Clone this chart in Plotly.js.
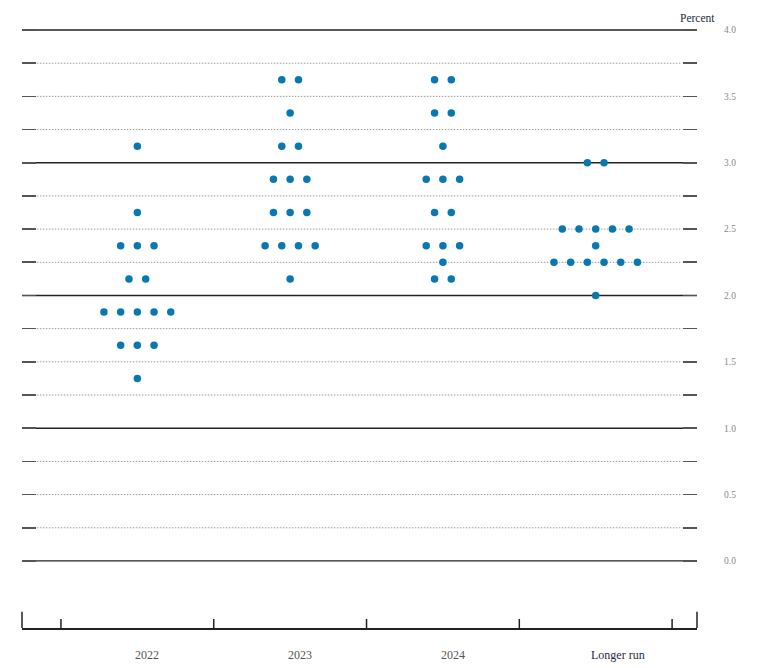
<!DOCTYPE html>
<html>
<head>
<meta charset="utf-8">
<script src="https://cdn.plot.ly/plotly-3.0.1.min.js"></script>
<style>html,body{margin:0;padding:0;background:#fff;}#chart{width:760px;height:668px;}</style>
</head>
<body>
<div id="chart"></div>
<script>
// Categories (x axis)
const categories = ['2022', '2023', '2024', 'Longer run'];

// Midpoint of target range projected by each participant: levels and number of dots per level
const levels2022 = [3.125, 2.625, 2.375, 2.125, 1.875, 1.625, 1.375];
const counts2022 = [1, 1, 3, 2, 5, 3, 1];

const levels2023 = [3.625, 3.375, 3.125, 2.875, 2.625, 2.375, 2.125];
const counts2023 = [2, 1, 2, 3, 3, 4, 1];

const levels2024 = [3.625, 3.375, 3.125, 2.875, 2.625, 2.375, 2.25, 2.125];
const counts2024 = [2, 2, 1, 3, 2, 3, 1, 2];

const levelsLR = [3.0, 2.5, 2.375, 2.25, 2.0];
const countsLR = [2, 5, 1, 6, 1];

// Axis ticks / gridlines
const gridValues = [0, 0.25, 0.5, 0.75, 1, 1.25, 1.5, 1.75, 2, 2.25, 2.5, 2.75, 3, 3.25, 3.5, 3.75, 4];
const tickLabels = ['0.0', '', '0.5', '', '1.0', '', '1.5', '', '2.0', '', '2.5', '', '3.0', '', '3.5', '', '4.0'];
const categoryBoundaries = [-0.5, 0.5, 1.5, 2.5, 3.5];

const allLevels = [levels2022, levels2023, levels2024, levelsLR];
const allCounts = [counts2022, counts2023, counts2024, countsLR];

const spacing = 0.1093;
const xs = [], ys = [];
allLevels.forEach((lv, i) => {
  lv.forEach((y, j) => {
    const n = allCounts[i][j];
    for (let k = 0; k < n; k++) {
      xs.push(i + (k - (n - 1) / 2) * spacing);
      ys.push(y);
    }
  });
});

const dots = {
  type: 'scatter', mode: 'markers', x: xs, y: ys,
  marker: {color: '#0a78b0', size: 7.5, line: {width: 0}},
  hoverinfo: 'y', showlegend: false, cliponaxis: false
};

const shapes = [];
gridValues.forEach(v => {
  const isInt = Math.abs(v - Math.round(v)) < 1e-9;
  if (isInt) {
    shapes.push({type: 'line', xref: 'paper', yref: 'y', x0: 0, x1: 1, y0: v, y1: v,
      line: {color: '#222', width: 1.3}, layer: 'below'});
  } else {
    shapes.push({type: 'line', xref: 'paper', yref: 'y', x0: 0.022, x1: 0.978, y0: v, y1: v,
      line: {color: '#9a9a9a', width: 1, dash: '1.5px,1.5px'}, layer: 'below'});
  }
});
// bottom axis ticks
categoryBoundaries.forEach(b => {
  shapes.push({type: 'line', xref: 'x', yref: 'paper', x0: b, x1: b, y0: 0, y1: 0.015,
    line: {color: '#222', width: 1.5}});
});
[0, 1].forEach(p => {
  shapes.push({type: 'line', xref: 'paper', yref: 'paper', x0: p, x1: p, y0: 0, y1: 0.027,
    line: {color: '#222', width: 1.5}});
});

const labelShift = [10, 10, 10, 22];
const annotations = categories.map((c, i) => ({
  x: i, xref: 'x', y: -0.045, yref: 'paper', yanchor: 'middle', text: c, showarrow: false,
  xshift: labelShift[i],
  font: {family: 'Liberation Serif, serif', size: 12, color: i === 3 ? '#2a2a40' : '#555'}
}));
annotations.push({
  x: 1, xref: 'paper', y: 4.0, yref: 'y', yshift: 12, text: 'Percent', showarrow: false,
  xanchor: 'center', yanchor: 'middle',
  font: {family: 'Liberation Serif, serif', size: 11.5, color: '#2a2a40'}
});

const layout = {
  width: 760, height: 668,
  margin: {l: 22, r: 63, t: 25, b: 40},
  paper_bgcolor: '#fff', plot_bgcolor: '#fff',
  showlegend: false,
  xaxis: {
    range: [-0.755, 3.663], showgrid: false, zeroline: false,
    showline: true, linecolor: '#222', linewidth: 1.5,
    tickvals: [], ticks: '', fixedrange: true
  },
  yaxis: {
    range: [-0.505, 4.0377], side: 'right',
    tickvals: gridValues, ticktext: tickLabels,
    ticks: 'inside', ticklen: 14, tickwidth: 1.6, tickcolor: '#555', mirror: 'ticks',
    showline: false, showgrid: false, zeroline: false,
    ticklabelstandoff: 26,
    tickfont: {family: 'Liberation Serif, serif', size: 9.5, color: '#888'},
    fixedrange: true
  },
  shapes: shapes,
  annotations: annotations
};

Plotly.newPlot('chart', [dots], layout, {displayModeBar: false, staticPlot: true});
</script>
</body>
</html>
